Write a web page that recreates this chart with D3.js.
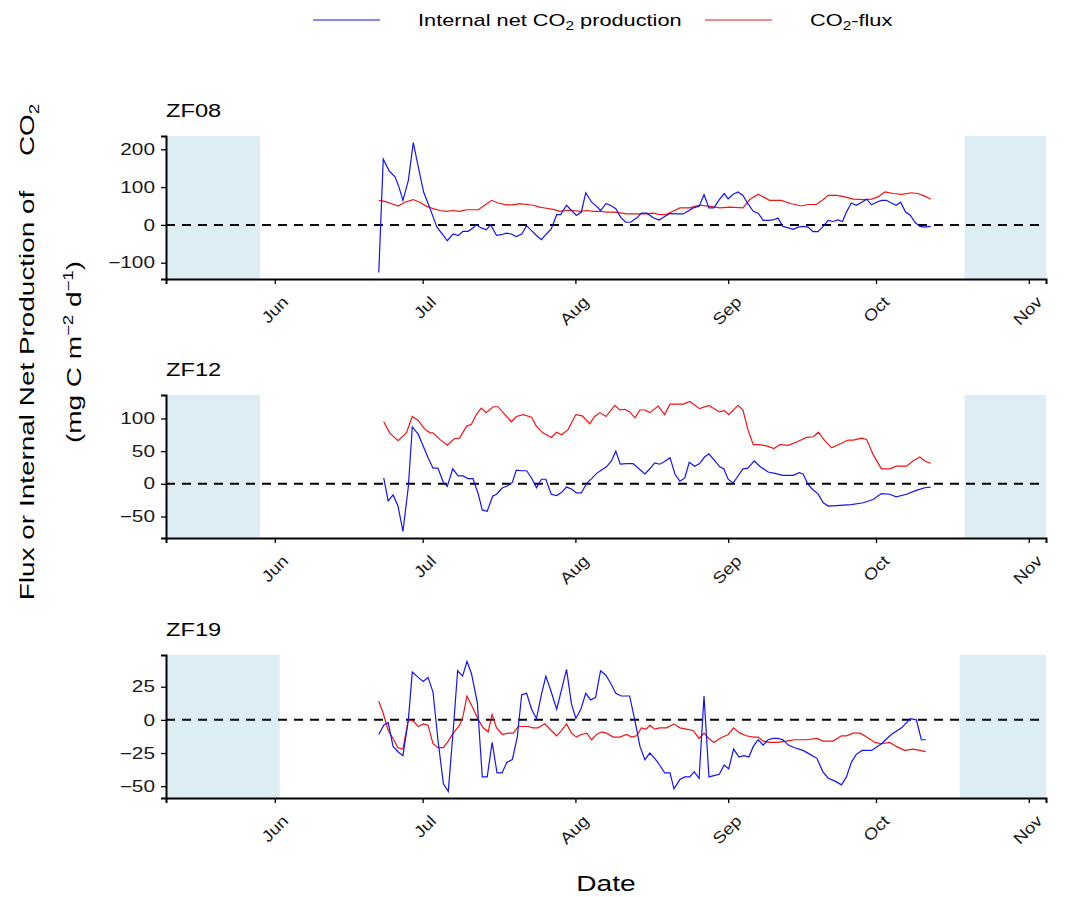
<!DOCTYPE html>
<html>
<head>
<meta charset="utf-8">
<script src="https://cdn.jsdelivr.net/npm/d3@7"></script>
<style>
  body { margin: 0; background: #fff; }
  text { font-family: "Liberation Sans", Arial, sans-serif; }
</style>
</head>
<body>
<div id="chart"></div>
<script>
var svgWidth = 1078;
var svgHeight = 897;

// x values are days after 1 June (2019)
var zf08Internal = [[21.1,-126],[22.0,174],[23.2,143],[24.4,127],[25.2,100],[26.0,65],[27.1,118],[28.1,218],[29.1,154],[30.2,87],[31.5,43],[32.9,-6],[34.2,-28],[35.0,-42],[36.2,-24],[37.2,-28],[38.2,-17],[39.2,-17],[40.2,-8],[40.9,0],[41.9,-8],[42.9,-13],[43.8,0],[45.0,-28],[46.0,-26],[47.0,-22],[48.0,-24],[49.0,-31],[50.1,-24],[51.1,-2],[52.1,-15],[53.1,-28],[54.1,-39],[55.1,-24],[56.1,-11],[57.2,27],[58.0,27],[59.2,52],[60.2,38],[61.2,25],[62.2,34],[63.1,85],[64.3,60],[65.3,49],[66.1,38],[67.2,56],[68.1,52],[69.2,43],[70.2,20],[71.2,7],[72.2,7],[73.4,18],[74.4,31],[75.5,31],[76.8,19],[78.0,13],[79.1,22],[80.2,30],[81.5,29],[82.9,29],[84.9,45],[86.1,49],[87.1,80],[88.1,45],[89.1,45],[90.2,67],[91.2,83],[92.0,69],[93.0,81],[94.0,87],[95.0,78],[96.0,56],[97.1,36],[98.1,31],[99.1,12],[100.1,12],[101.1,13],[102.1,18],[103.1,-4],[104.2,-8],[105.2,-12],[106.2,-6],[107.2,-4],[108.2,-6],[109.2,-18],[110.2,-18],[111.3,-4],[112.3,12],[113.3,9],[114.3,13],[115.2,9],[116.0,34],[117.0,58],[118.0,52],[119.1,60],[120.1,68],[121.1,53],[122.1,60],[123.1,65],[124.1,65],[125.1,58],[126.1,52],[127.0,60],[128.0,34],[129.0,25],[129.9,7],[130.9,-4],[131.9,-6],[133.1,-4]];
var zf08Flux = [[21.1,65],[22.3,62],[23.7,56],[25.0,50],[26.4,60],[28.1,67],[29.4,60],[30.8,49],[32.1,43],[33.5,38],[34.8,36],[36.2,38],[37.5,36],[38.9,40],[40.2,40],[41.3,40],[42.6,52],[44.0,65],[45.3,58],[47.0,53],[48.4,53],[49.7,56],[51.1,54],[52.4,52],[53.8,47],[55.1,44],[56.5,41],[57.8,36],[59.2,38],[60.5,38],[61.9,36],[63.3,38],[64.6,36],[66.0,36],[67.3,34],[68.7,34],[70.0,32],[71.4,29],[72.7,29],[74.1,29],[75.4,29],[76.8,31],[78.1,27],[79.5,28],[80.8,36],[82.2,45],[84.2,45],[86.2,52],[88.3,49],[90.3,45],[92.3,47],[95.0,45],[96.4,67],[98.1,81],[100.4,65],[102.8,65],[104.8,56],[106.9,50],[108.2,54],[109.9,54],[111.3,67],[112.3,78],[114.0,78],[115.7,74],[117.4,68],[119.4,67],[121.1,68],[122.4,74],[123.8,87],[125.5,83],[127.2,81],[129.2,85],[130.5,83],[131.9,76],[133.1,68]];

var zf12Internal = [[22.1,9],[23.0,-26],[24.0,-17],[25.0,-34],[26.0,-73],[27.1,-4],[27.9,87],[29.1,76],[30.1,58],[31.1,40],[32.1,24],[33.1,24],[34.2,2],[35.0,-4],[36.1,23],[37.2,12],[38.2,12],[39.2,8],[40.2,8],[41.3,-16],[42.1,-40],[43.1,-42],[44.2,-19],[45.0,-16],[46.2,-6],[47.3,-3],[48.2,2],[49.0,21],[50.1,20],[51.1,20],[52.1,9],[53.1,-6],[54.1,7],[55.0,7],[56.1,-16],[57.2,-18],[58.2,-13],[59.2,-5],[60.2,-8],[61.2,-14],[62.2,-14],[63.3,1],[64.3,8],[65.3,16],[66.3,21],[67.3,26],[68.3,35],[69.2,50],[70.1,30],[71.4,31],[72.7,31],[73.9,23],[75.1,15],[76.1,23],[77.1,32],[78.1,30],[79.1,34],[80.2,40],[81.2,15],[82.2,4],[83.2,9],[84.1,33],[85.2,27],[86.2,31],[87.2,41],[88.1,46],[89.3,35],[90.3,26],[91.1,23],[92.0,7],[93.0,1],[94.0,12],[95.0,23],[96.0,24],[97.3,35],[98.4,27],[100.1,18],[101.5,16],[103.1,13],[105.2,13],[106.4,17],[107.2,15],[108.2,-1],[109.2,-9],[110.2,-15],[111.3,-29],[112.3,-34],[114.7,-33],[117.0,-32],[119.4,-29],[121.4,-24],[123.1,-15],[124.8,-16],[126.1,-20],[128.2,-16],[130.2,-10],[131.9,-6],[133.1,-5]];
var zf12Flux = [[22.1,95],[23.3,78],[25.0,66],[26.7,78],[27.9,103],[29.1,97],[30.4,84],[31.5,78],[32.1,78],[33.5,68],[35.0,59],[36.4,69],[37.5,70],[38.9,88],[39.9,91],[40.9,106],[41.9,116],[42.9,109],[44.3,118],[45.3,118],[46.7,106],[48.0,95],[49.0,103],[50.4,106],[52.1,102],[53.1,88],[54.4,78],[56.1,71],[57.2,79],[58.2,75],[59.5,83],[61.1,106],[62.4,104],[63.9,92],[64.9,103],[66.0,109],[67.2,103],[69.0,120],[70.0,113],[71.0,114],[72.0,110],[73.1,101],[74.1,113],[75.1,113],[76.1,109],[77.8,119],[79.1,106],[80.2,122],[82.9,122],[84.2,126],[86.2,115],[88.1,120],[90.2,110],[91.2,112],[92.1,106],[94.0,120],[95.0,113],[96.0,83],[97.1,60],[98.4,60],[99.8,58],[101.3,54],[102.5,60],[104.2,59],[105.9,64],[107.9,71],[109.3,72],[110.3,79],[111.6,66],[113.0,55],[115.0,62],[116.3,67],[117.4,67],[119.1,70],[120.1,68],[121.4,45],[123.1,23],[124.8,23],[126.1,27],[128.2,27],[129.5,35],[130.9,41],[131.9,35],[133.1,31]];

var zf19Internal = [[21.1,-11],[22.1,-4],[23.0,-2],[24.0,-20],[25.0,-24],[26.0,-27],[27.1,0],[27.9,36],[29.1,32],[30.1,29],[31.1,32],[32.1,21],[33.1,-15],[34.2,-48],[35.2,-54],[36.2,-8],[37.1,37],[38.1,33],[39.0,44],[39.9,35],[41.1,13],[42.1,-43],[43.1,-43],[44.1,-17],[45.1,-40],[46.1,-40],[47.1,-32],[48.2,-30],[49.2,-13],[50.1,19],[51.1,20],[52.1,8],[53.1,1],[54.1,19],[55.0,33],[56.1,21],[57.2,8],[58.2,23],[59.2,38],[60.2,12],[61.1,1],[62.1,8],[63.1,20],[64.1,15],[65.1,17],[66.1,37],[67.1,34],[68.1,28],[69.2,20],[70.3,18],[72.0,18],[73.1,-1],[74.1,-20],[75.1,-30],[76.1,-25],[77.1,-29],[78.1,-34],[79.1,-40],[80.2,-40],[81.0,-52],[82.2,-45],[83.2,-43],[84.2,-43],[85.1,-39],[86.1,-44],[87.1,18],[88.1,-43],[89.1,-42],[90.2,-41],[91.2,-34],[92.1,-37],[93.1,-22],[94.2,-28],[95.2,-27],[96.2,-28],[97.1,-20],[98.1,-15],[99.1,-19],[100.1,-15],[101.1,-14],[102.1,-14],[103.1,-15],[104.2,-19],[105.5,-21],[107.2,-23],[108.6,-26],[110.0,-29],[111.2,-39],[112.3,-44],[113.6,-46],[115.0,-49],[116.0,-43],[117.0,-32],[118.0,-26],[119.2,-23],[121.1,-23],[123.1,-18],[125.1,-11],[127.2,-6],[129.0,1],[130.2,0],[131.2,-15],[132.1,-15]];
var zf19Flux = [[21.1,14],[22.0,5],[23.0,-8],[24.0,-14],[25.0,-21],[26.0,-22],[27.1,0],[28.1,-1],[29.1,-5],[30.1,-3],[31.1,-4],[32.1,-18],[33.1,-21],[34.2,-21],[35.2,-16],[36.2,-10],[37.5,-4],[38.2,3],[39.0,18],[40.2,9],[41.3,0],[42.3,-6],[43.3,-9],[44.1,4],[45.0,-6],[46.2,-11],[47.3,-10],[48.4,-10],[49.4,-5],[50.4,-5],[51.4,-5],[52.4,-6],[53.4,-6],[54.8,-3],[56.1,-8],[57.2,-12],[58.2,-8],[59.2,-3],[60.2,-10],[61.2,-13],[62.2,-11],[63.3,-10],[64.3,-15],[65.3,-11],[66.3,-9],[67.3,-10],[68.7,-13],[70.0,-13],[71.4,-11],[72.4,-13],[73.4,-12],[74.4,-6],[75.4,-7],[76.1,-4],[77.1,-7],[78.1,-6],[79.5,-6],[81.0,-3],[82.2,-6],[83.5,-7],[84.9,-8],[86.1,-14],[87.1,-10],[88.1,-14],[89.1,-17],[90.3,-14],[92.0,-11],[93.1,-6],[94.4,-10],[95.7,-12],[97.1,-13],[98.1,-13],[99.1,-16],[100.4,-17],[102.1,-17],[103.8,-16],[105.5,-15],[107.9,-15],[110.0,-14],[111.3,-16],[113.3,-16],[115.0,-12],[116.0,-12],[117.4,-10],[118.8,-10],[120.1,-13],[121.8,-17],[123.1,-18],[124.8,-17],[126.1,-20],[127.8,-23],[129.5,-22],[130.9,-23],[132.1,-24]];

var lakes = ["ZF08", "ZF12", "ZF19"];
var internalSeries = [zf08Internal, zf12Internal, zf19Internal];
var fluxSeries = [zf08Flux, zf12Flux, zf19Flux];
var yTicks = [[-100, 0, 100, 200], [-50, 0, 50, 100], [-50, -25, 0, 25]];
// ice-covered periods (shaded): before ice-out and after ice-on
var iceOut = ["2019-05-29", "2019-05-29", "2019-06-02"];
var iceOn = ["2019-10-19", "2019-10-19", "2019-10-18"];

var margin = { left: 166, right: 32 };
var panelTop = [136, 395, 655];
var panelHeight = 143;
var width = svgWidth - margin.left - margin.right;

// the original text is set wider than Liberation Sans: stretch along the baseline
var stretch = 1.28;

var parseDate = d3.timeParse("%Y-%m-%d");
var jun1 = new Date(2019, 5, 1);
function toDate(d) { return new Date(jun1.getTime() + d * 864e5); }

var svg = d3.select("#chart").append("svg")
  .attr("width", svgWidth)
  .attr("height", svgHeight);

var x = d3.scaleTime()
  .domain([new Date(2019, 4, 9, 22), new Date(2019, 10, 4, 12)])
  .range([0, width]);

var line = d3.line();

lakes.forEach(function(lake, i) {
  var g = svg.append("g")
    .attr("transform", `translate(${margin.left}, ${panelTop[i]})`);

  // ggplot-like 5% expansion of the data range
  var all = internalSeries[i].concat(fluxSeries[i]);
  var ext = d3.extent(all, d => d[1]);
  var pad = (ext[1] - ext[0]) * 0.05;
  var y = d3.scaleLinear()
    .domain([ext[0] - pad, ext[1] + pad])
    .range([panelHeight, 0]);

  // shaded ice periods
  g.append("rect")
    .attr("x", 0).attr("y", 0)
    .attr("width", x(parseDate(iceOut[i])))
    .attr("height", panelHeight)
    .attr("fill", "#ddedf4");
  g.append("rect")
    .attr("x", x(parseDate(iceOn[i]))).attr("y", 0)
    .attr("width", width - x(parseDate(iceOn[i])))
    .attr("height", panelHeight)
    .attr("fill", "#ddedf4");

  // zero line
  g.append("line")
    .attr("x1", 0).attr("x2", width)
    .attr("y1", y(0)).attr("y2", y(0))
    .attr("stroke", "#000")
    .attr("stroke-width", 2)
    .attr("stroke-dasharray", "9,7");

  line.x(d => x(toDate(d[0]))).y(d => y(d[1]));

  g.append("path")
    .datum(fluxSeries[i])
    .attr("d", line)
    .attr("fill", "none")
    .attr("stroke", "#f01414")
    .attr("stroke-width", 1.2);

  g.append("path")
    .datum(internalSeries[i])
    .attr("d", line)
    .attr("fill", "none")
    .attr("stroke", "#1414f0")
    .attr("stroke-width", 1.2);

  // axes
  var yAxis = g.append("g")
    .call(d3.axisLeft(y).tickValues(yTicks[i]).tickSize(5));
  var xAxis = g.append("g")
    .attr("transform", `translate(0, ${panelHeight})`)
    .call(d3.axisBottom(x).ticks(d3.timeMonth.every(1)).tickFormat(d3.timeFormat("%b")).tickSize(5));

  [yAxis, xAxis].forEach(function(ax) {
    ax.select(".domain").attr("stroke", "#000").attr("stroke-width", 2);
    ax.selectAll(".tick line").attr("stroke", "#000").attr("stroke-width", 1.3);
    ax.selectAll("text").attr("fill", "#1a1a1a").attr("font-size", "16px")
      .attr("font-family", "Liberation Sans, Arial, sans-serif");
  });
  yAxis.selectAll(".tick text")
    .attr("x", -11 / 1.3)
    .attr("transform", "scale(1.3,1)");
  xAxis.selectAll(".tick text")
    .attr("x", 0).attr("y", 0).attr("dy", 0)
    .attr("text-anchor", "end")
    .attr("transform", "translate(14, 24) rotate(-45) scale(1.16,1)");

  g.append("text")
    .attr("transform", `translate(0, -19) scale(${stretch},1)`)
    .attr("font-size", "18.5px")
    .attr("fill", "#000")
    .text(lake);
});

// y-axis title
var yStretch = 1.33;
var yTitle = svg.append("g")
  .attr("transform", `translate(0, 352) rotate(-90) scale(${yStretch},1)`);
var t1 = yTitle.append("text")
  .attr("y", 34)
  .attr("text-anchor", "middle")
  .attr("font-size", "21px")
  .attr("fill", "#000");
t1.append("tspan").text("Flux or Internal Net Production of");
t1.append("tspan").attr("dx", 26).text("CO");
t1.append("tspan").attr("font-size", "14px").attr("dy", 5).text("2");
var t2 = yTitle.append("text")
  .attr("text-anchor", "middle")
  .attr("y", 81)
  .attr("font-size", "21px")
  .attr("fill", "#000");
t2.append("tspan").text("(mg C m");
t2.append("tspan").attr("font-size", "14px").attr("dy", -8).text("\u22122");
t2.append("tspan").attr("dy", 8).text(" d");
t2.append("tspan").attr("font-size", "14px").attr("dy", -8).text("\u22121");
t2.append("tspan").attr("dy", 8).text(")");

// x-axis title
svg.append("text")
  .attr("transform", `translate(${margin.left + width / 2}, 891) scale(${stretch},1)`)
  .attr("text-anchor", "middle")
  .attr("font-size", "22px")
  .attr("fill", "#000")
  .text("Date");

// legend
var legend = svg.append("g").attr("transform", "translate(0, 20)");
legend.append("line")
  .attr("x1", 313).attr("x2", 380).attr("y1", 0).attr("y2", 0)
  .attr("stroke", "#1414f0").attr("stroke-width", 1.2);
var l1 = legend.append("text")
  .attr("transform", `translate(418, 6) scale(${stretch},1)`)
  .attr("font-size", "17px").attr("fill", "#000");
l1.append("tspan").text("Internal net CO");
l1.append("tspan").attr("font-size", "12px").attr("dy", 4).text("2");
l1.append("tspan").attr("dy", -4).text(" production");
legend.append("line")
  .attr("x1", 705).attr("x2", 772).attr("y1", 0).attr("y2", 0)
  .attr("stroke", "#f01414").attr("stroke-width", 1.2);
var l2 = legend.append("text")
  .attr("transform", `translate(810, 6) scale(${stretch},1)`)
  .attr("font-size", "17px").attr("fill", "#000");
l2.append("tspan").text("CO");
l2.append("tspan").attr("font-size", "12px").attr("dy", 4).text("2");
l2.append("tspan").attr("dy", -4).text("-flux");
</script>
</body>
</html>
